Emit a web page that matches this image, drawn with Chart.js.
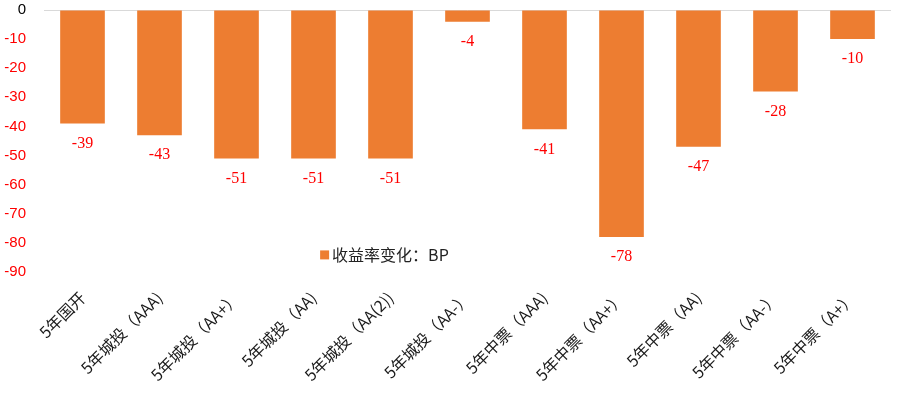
<!DOCTYPE html>
<html>
<head>
<meta charset="utf-8">
<script src="https://cdn.jsdelivr.net/npm/chart.js@4/dist/chart.umd.min.js"></script>
<style>
  html, body { margin: 0; padding: 0; background: #fff; }
</style>
</head>
<body>
<canvas id="myChart" width="905" height="398"></canvas>
<script>
// categories and values
const categories = ['5年国开', '5年城投（AAA)', '5年城投（AA+）', '5年城投（AA)', '5年城投（AA(2))',
  '5年城投（AA-）', '5年中票（AAA)', '5年中票（AA+）', '5年中票（AA)', '5年中票（AA-）', '5年中票（A+）'];
const yieldChange = [-39, -43, -51, -51, -51, -4, -41, -78, -47, -28, -10];
const seriesName = '收益率变化：BP';
const yTicks = [0, -10, -20, -30, -40, -50, -60, -70, -80, -90];

const barColor = '#ED7D31';

// red value labels under each bar
const valueLabels = {
  id: 'valueLabels',
  afterDatasetsDraw(chart) {
    const ctx = chart.ctx;
    const meta = chart.getDatasetMeta(0);
    ctx.save();
    ctx.fillStyle = '#FF0000';
    ctx.font = '16px "Liberation Serif", "Times New Roman", serif';
    ctx.textAlign = 'center';
    ctx.textBaseline = 'middle';
    meta.data.forEach((bar, i) => {
      ctx.fillText(yieldChange[i], bar.x, bar.y + 20);
    });
    ctx.restore();
  }
};

// legend sits inside the plot, near the bottom
const innerLegend = {
  id: 'innerLegend',
  afterDraw(chart) {
    const ctx = chart.ctx;
    const area = chart.chartArea;
    const x = area.left + (area.right - area.left) * 0.326;
    const y = chart.scales.y.getPixelForValue(-84.3);
    ctx.save();
    ctx.fillStyle = barColor;
    ctx.fillRect(x, y - 5, 9, 9);
    ctx.fillStyle = '#222';
    ctx.font = '16px "Noto Sans CJK SC", sans-serif';
    ctx.textAlign = 'left';
    ctx.textBaseline = 'middle';
    ctx.fillText(seriesName, x + 12, y);
    ctx.restore();
  }
};

const chart = new Chart(document.getElementById('myChart').getContext('2d'), {
  type: 'bar',
  data: {
    labels: categories,
    datasets: [{
      label: seriesName,
      data: yieldChange,
      backgroundColor: barColor,
      barPercentage: 0.58,
      categoryPercentage: 1
    }]
  },
  options: {
    responsive: false,
    animation: false,
    layout: { padding: { left: 4, right: 14, top: 10, bottom: 0 } },
    plugins: {
      legend: { display: false },
      tooltip: { enabled: false }
    },
    scales: {
      y: {
        min: -90,
        max: 0,
        afterBuildTicks(axis) {
          axis.ticks = yTicks.map(v => ({ value: v }));
        },
        afterFit(axis) {
          axis.paddingTop = 0;
          axis.paddingBottom = 0;
          axis.width = 40;
        },
        border: { display: false },
        grid: {
          drawTicks: false,
          color: c => c.tick && c.tick.value === 0 ? '#d9d9d9' : 'rgba(0,0,0,0)'
        },
        ticks: {
          padding: 18,
          color: c => c.tick && c.tick.value === 0 ? '#000' : '#FF0000',
          font: { family: '"Liberation Sans", Arial, sans-serif', size: 15 }
        }
      },
      x: {
        afterFit(axis) {
          axis.paddingLeft = 0;
          axis.paddingRight = 0;
          axis.height = 126;
        },
        border: { display: false },
        grid: { display: false },
        ticks: {
          minRotation: 45,
          maxRotation: 45,
          padding: 8,
          color: '#1a1a1a',
          font: { family: '"Noto Sans CJK SC", sans-serif', size: 16 }
        }
      }
    }
  },
  plugins: [valueLabels, innerLegend]
});
</script>
</body>
</html>
